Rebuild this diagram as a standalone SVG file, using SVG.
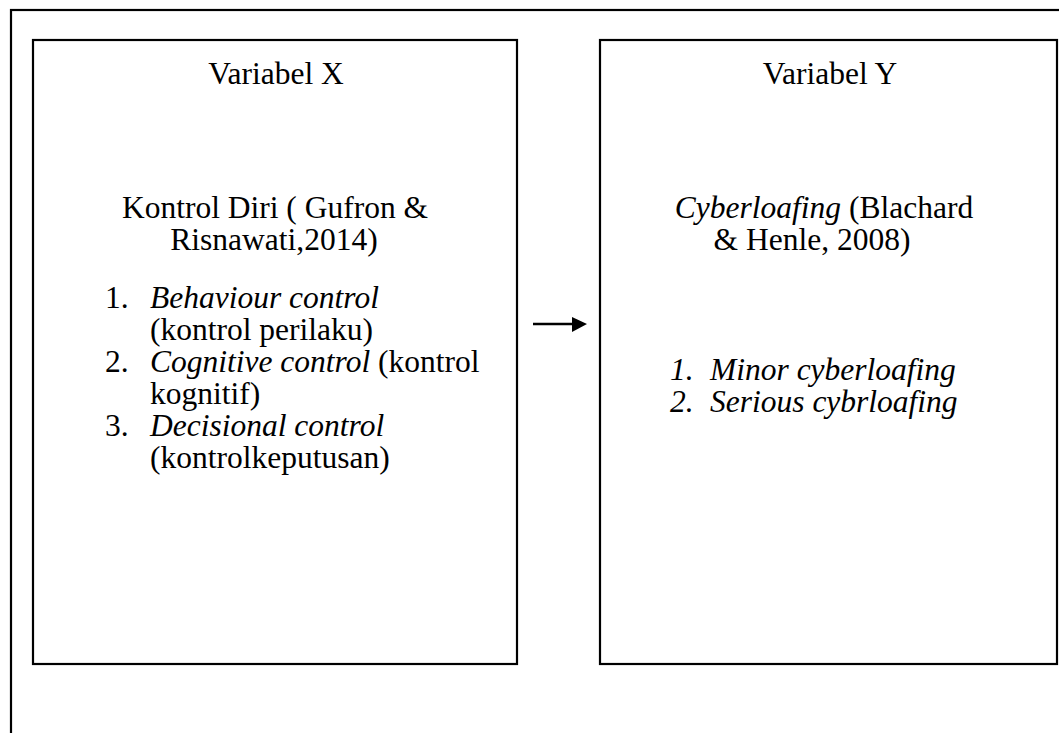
<svg xmlns="http://www.w3.org/2000/svg" width="1059" height="733" viewBox="0 0 1059 733">
<style>
.box{fill:#fff;stroke:#000;stroke-width:2.2}
.t{font-family:"Liberation Serif","Times New Roman",serif;font-size:31.5px;fill:#000}
.c{text-anchor:middle}
.i{font-style:italic}
</style>
<rect x="11" y="10" width="1100" height="800" fill="none" stroke="#000" stroke-width="2.2"/>
<g id="node-x">
<rect class="box" x="33" y="40" width="484" height="624"/>
<text class="t c" x="276" y="84">Variabel X</text>
<text class="t c" x="275" y="218">Kontrol Diri ( Gufron &amp;</text>
<text class="t c" x="274" y="250">Risnawati,2014)</text>
<text class="t" x="105" y="308">1.</text>
<text class="t i" x="150" y="308">Behaviour control</text>
<text class="t" x="150" y="340">(kontrol perilaku)</text>
<text class="t" x="105" y="372">2.</text>
<text class="t" x="150" y="372"><tspan class="i">Cognitive control</tspan> (kontrol</text>
<text class="t" x="150" y="404">kognitif)</text>
<text class="t" x="105" y="436">3.</text>
<text class="t i" x="150" y="436">Decisional control</text>
<text class="t" x="150" y="468">(kontrolkeputusan)</text>
</g>
<g id="node-y">
<rect class="box" x="600" y="40" width="457" height="624"/>
<text class="t c" x="830" y="84">Variabel Y</text>
<text class="t c" x="824" y="218"><tspan class="i">Cyberloafing</tspan> (Blachard</text>
<text class="t c" x="812" y="250">&amp; Henle, 2008)</text>
<text class="t i" x="670" y="380">1.</text>
<text class="t i" x="710" y="380">Minor cyberloafing</text>
<text class="t i" x="670" y="412">2.</text>
<text class="t i" x="710" y="412">Serious cybrloafing</text>
</g>
<g id="connectors">
<line x1="533" y1="324" x2="574" y2="324" stroke="#000" stroke-width="2.4"/>
<path d="M572,317 L587,324 L572,332 z" fill="#000"/>
</g>
</svg>
